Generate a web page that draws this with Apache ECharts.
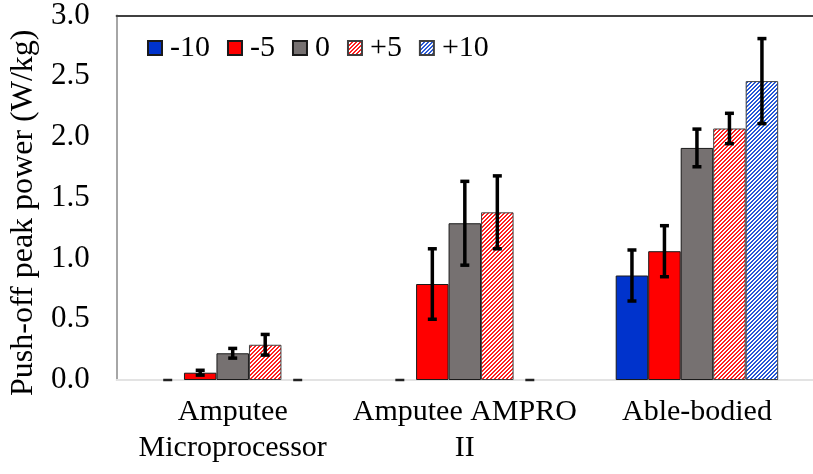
<!DOCTYPE html>
<html>
<head>
<meta charset="utf-8">
<script src="https://cdn.jsdelivr.net/npm/echarts@6/dist/echarts.min.js"></script>
<style>html,body{margin:0;padding:0;background:#fff}#c{width:813px;height:474px}</style>
</head>
<body>
<div id="c"></div>
<script>
const categories = ['Amputee\nMicroprocessor', 'Amputee AMPRO\nII', 'Able-bodied'];
const seriesNames = ['-10', '-5', '0', '+5', '+10'];
const valM10 = [0, 0, 0.86];
const valM5 = [0.06, 0.79, 1.06];
const val0 = [0.22, 1.29, 1.91];
const valP5 = [0.29, 1.38, 2.07];
const valP10 = [0, 0, 2.46];
const errM10 = [0, 0, 0.21];
const errM5 = [0.02, 0.29, 0.21];
const err0 = [0.04, 0.345, 0.155];
const errP5 = [0.085, 0.30, 0.125];
const errP10 = [0, 0, 0.35];
const yTicks = [0, 0.5, 1.0, 1.5, 2.0, 2.5, 3.0];

const values = [valM10, valM5, val0, valP5, valP10];
const errors = [errM10, errM5, err0, errP5, errP10];

function hatch(color) {
  const c = document.createElement('canvas');
  c.width = 4; c.height = 4;
  const ctx = c.getContext('2d');
  ctx.fillStyle = '#ffffff';
  ctx.fillRect(0, 0, 4, 4);
  ctx.fillStyle = color;
  for (let y = 0; y < 4; y++) for (let x = 0; x < 4; x++) if ((x + y) % 4 < 2) ctx.fillRect(x, y, 1, 1);
  return { image: c, repeat: 'repeat' };
}

const styles = [
  { color: '#0033cc', borderColor: '#1a1a1a' },
  { color: '#ff0000', borderColor: '#1a1a1a' },
  { color: '#767171', borderColor: '#1a1a1a' },
  { color: hatch('#ff2020'), borderColor: '#404040' },
  { color: hatch('#2456d6'), borderColor: '#404040' }
];

const FONT = '"Liberation Serif", "Times New Roman", serif';
const NB = seriesNames.length;
const GAPFRAC = 0.30;

const series = [];
seriesNames.forEach((n, i) => {
  series.push({
    name: n,
    type: 'bar',
    barGap: '0%',
    barCategoryGap: '30%',
    itemStyle: { color: styles[i].color, borderColor: styles[i].borderColor, borderWidth: 1 },
    emphasis: { disabled: true },
    data: values[i].map(v => v === 0 ? { value: v, itemStyle: { borderWidth: 0 } } : v),
    z: 2
  });
});
seriesNames.forEach((n, i) => {
  series.push({
    type: 'custom',
    name: 'err' + n,
    z: 5,
    data: values[i].map((v, k) => [k, v, errors[i][k]]),
    renderItem: function (params, api) {
      const k = api.value(0), v = api.value(1), e = api.value(2);
      const band = api.size([1, 0])[0];
      const bw = band * (1 - GAPFRAC) / NB;
      const cx = api.coord([k, 0])[0] + (i - (NB - 1) / 2) * bw;
      const yHi = api.coord([k, v + e])[1];
      const yLo = api.coord([k, Math.max(0, v - e)])[1];
      const cap = 4.5;
      const st = { stroke: '#000', lineWidth: 3.5 };
      const children = [];
      if (e > 0) children.push({ type: 'line', shape: { x1: cx, y1: yHi, x2: cx, y2: yLo }, style: st });
      children.push({ type: 'line', shape: { x1: cx - cap, y1: yHi, x2: cx + cap, y2: yHi }, style: e > 0 ? st : { stroke: '#222', lineWidth: 2.5 } });
      if (e > 0) children.push({ type: 'line', shape: { x1: cx - cap, y1: yLo, x2: cx + cap, y2: yLo }, style: st });
      return { type: 'group', children: children };
    }
  });
});

const chart = echarts.init(document.getElementById('c'), null, { renderer: 'canvas' });
chart.setOption({
  animation: false,
  backgroundColor: '#ffffff',
  textStyle: { fontFamily: FONT },
  grid: { left: 116, right: -9, top: 11, bottom: 94, containLabel: false },
  legend: {
    data: seriesNames,
    left: 142, top: 28,
    itemWidth: 14, itemHeight: 14, itemGap: 17,
    icon: 'rect',
    textStyle: { fontFamily: FONT, fontSize: 30, color: '#000', padding: [0, 0, 0, 3] },
    selectedMode: false
  },
  xAxis: [{
    type: 'category',
    data: categories,
    axisLine: { lineStyle: { color: '#e3e3e3', width: 2 } },
    axisTick: { show: false },
    axisLabel: { fontFamily: FONT, fontSize: 30, color: '#000', margin: 14, lineHeight: 36, interval: 0 }
  }, {
    type: 'category',
    position: 'top',
    data: categories,
    axisLine: { lineStyle: { color: '#404040', width: 2 } },
    axisTick: { show: false },
    axisLabel: { show: false }
  }],
  yAxis: {
    type: 'value',
    min: yTicks[0], max: yTicks[yTicks.length - 1], interval: 0.5,
    name: 'Push-off peak power (W/kg)',
    nameLocation: 'middle',
    nameGap: 72,
    nameTextStyle: { fontFamily: FONT, fontSize: 32, color: '#000', padding: [0, 30, 0, 0] },
    axisLine: { show: true, lineStyle: { color: '#a6a6a6', width: 2 } },
    axisTick: { show: false },
    splitLine: { show: false },
    axisLabel: { fontFamily: FONT, fontSize: 31, color: '#000', margin: 27, formatter: v => v.toFixed(1) }
  },
  series: series
});
</script>
</body>
</html>
